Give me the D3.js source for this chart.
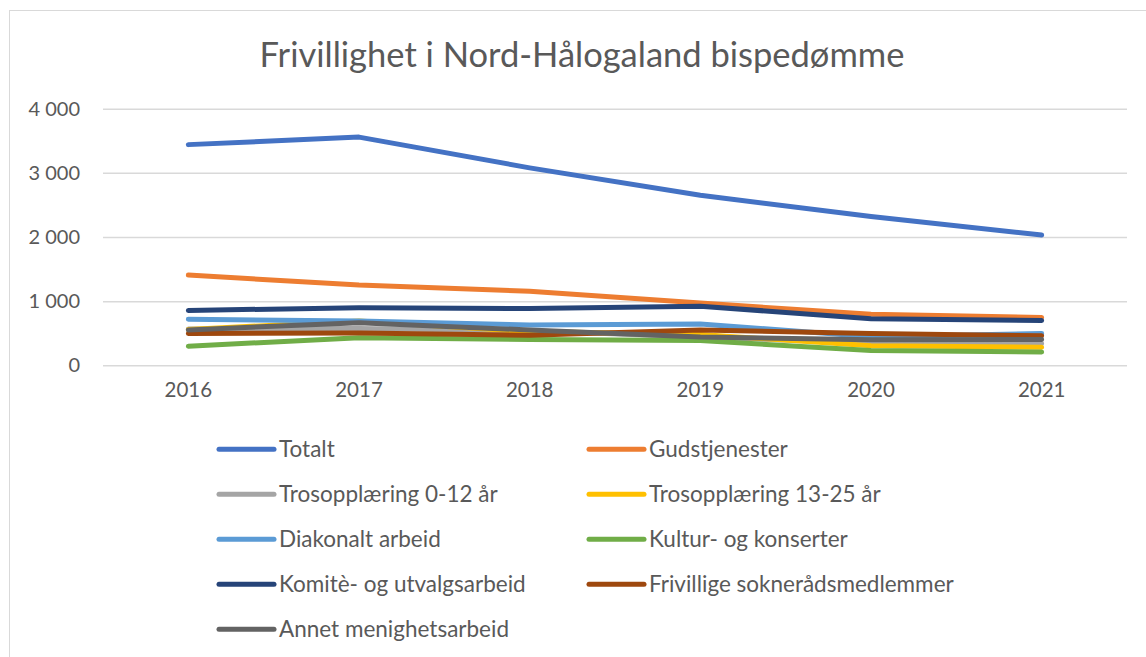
<!DOCTYPE html>
<html>
<head>
<meta charset="utf-8">
<script src="https://cdn.jsdelivr.net/npm/d3@7"></script>
<style>
  body { margin: 0; background: #fff; }
  text { font-family: Lato, "Open Sans", sans-serif; fill: #595959; }
</style>
</head>
<body>
<script>
// data
var years = ["2016", "2017", "2018", "2019", "2020", "2021"];
var seriesNames = [
  "Totalt", "Gudstjenester",
  "Trosopplæring 0-12 år", "Trosopplæring 13-25 år",
  "Diakonalt arbeid", "Kultur- og konserter",
  "Komitè- og utvalgsarbeid", "Frivillige soknerådsmedlemmer",
  "Annet menighetsarbeid"
];
var totalt        = [3440, 3557, 3078, 2650, 2320, 2030];
var gudstjenester = [1406, 1250, 1156, 970, 795, 745];
var tros012       = [565, 575, 540, 440, 345, 339];
var tros1325      = [560, 690, 525, 480, 305, 280];
var diakonalt     = [719, 690, 630, 645, 445, 495];
var kultur        = [297, 430, 404, 385, 230, 208];
var komite        = [855, 898, 885, 922, 725, 697];
var frivillige    = [495, 505, 469, 552, 495, 460];
var annet         = [552, 665, 550, 440, 400, 404];
var yTicks = [0, 1000, 2000, 3000, 4000];

var colors = ["#4472C4", "#ED7D31", "#A5A5A5", "#FFC000", "#5B9BD5",
              "#70AD47", "#264478", "#9E480E", "#636363"];
var allValues = [totalt, gudstjenester, tros012, tros1325, diakonalt,
                 kultur, komite, frivillige, annet];

var series = seriesNames.map((name, i) => ({ name: name, values: allValues[i], color: colors[i] }));

var svgWidth = 1146, svgHeight = 657;
var plot = { left: 103, right: 1127, top: 108.7, bottom: 365.3 };

var svg = d3.select("body").append("svg")
    .attr("width", svgWidth)
    .attr("height", svgHeight);

// chart frame
svg.append("rect")
    .attr("x", 9.5).attr("y", 10.5)
    .attr("width", 1150).attr("height", 660)
    .attr("fill", "none")
    .attr("stroke", "#d9d9d9");

// title
svg.append("text")
    .attr("x", 582).attr("y", 67)
    .attr("text-anchor", "middle")
    .style("font-size", "34.5px")
    .text("Frivillighet i Nord-Hålogaland bispedømme");

// scales
var x = d3.scaleBand().domain(years).range([plot.left, plot.right]);
var y = d3.scaleLinear().domain([0, 4000]).range([plot.bottom, plot.top]);

// gridlines + y labels
var yAxis = d3.axisLeft(y)
    .tickValues(yTicks)
    .tickSize(-(plot.right - plot.left))
    .tickPadding(23)
    .tickFormat(d => d3.format(",")(d).replace(",", " "));

var gy = svg.append("g")
    .attr("transform", `translate(${plot.left},0)`)
    .call(yAxis);
gy.select(".domain").remove();
gy.selectAll(".tick line").attr("stroke", "#d9d9d9").attr("stroke-width", 1.5);
gy.selectAll(".tick text").style("font-size", "20px").attr("fill", "#595959");

// x labels
var xAxis = d3.axisBottom(x).tickSize(0).tickPadding(17);
var gx = svg.append("g")
    .attr("transform", `translate(0,${plot.bottom})`)
    .call(xAxis);
gx.select(".domain").remove();
gx.selectAll(".tick text").style("font-size", "20.5px").attr("fill", "#595959");

// lines
var line = d3.line()
    .x((d, i) => x(years[i]) + x.bandwidth() / 2)
    .y(d => y(d));

svg.append("g").selectAll("path")
    .data(series)
    .enter()
    .append("path")
    .attr("d", d => line(d.values))
    .attr("fill", "none")
    .attr("stroke", d => d.color)
    .attr("stroke-width", 5)
    .attr("stroke-linecap", "round")
    .attr("stroke-linejoin", "round");

// legend
var legend = svg.append("g").selectAll("g")
    .data(series)
    .enter()
    .append("g")
    .attr("transform", (d, i) => `translate(${i % 2 === 0 ? 219 : 589}, ${449.3 + Math.floor(i / 2) * 45})`);

legend.append("line")
    .attr("x1", 0).attr("x2", 55)
    .attr("stroke", d => d.color)
    .attr("stroke-width", 5)
    .attr("stroke-linecap", "round");

legend.append("text")
    .attr("x", 60).attr("y", 8)
    .style("font-size", "22.5px")
    .text(d => d.name);
</script>
</body>
</html>
